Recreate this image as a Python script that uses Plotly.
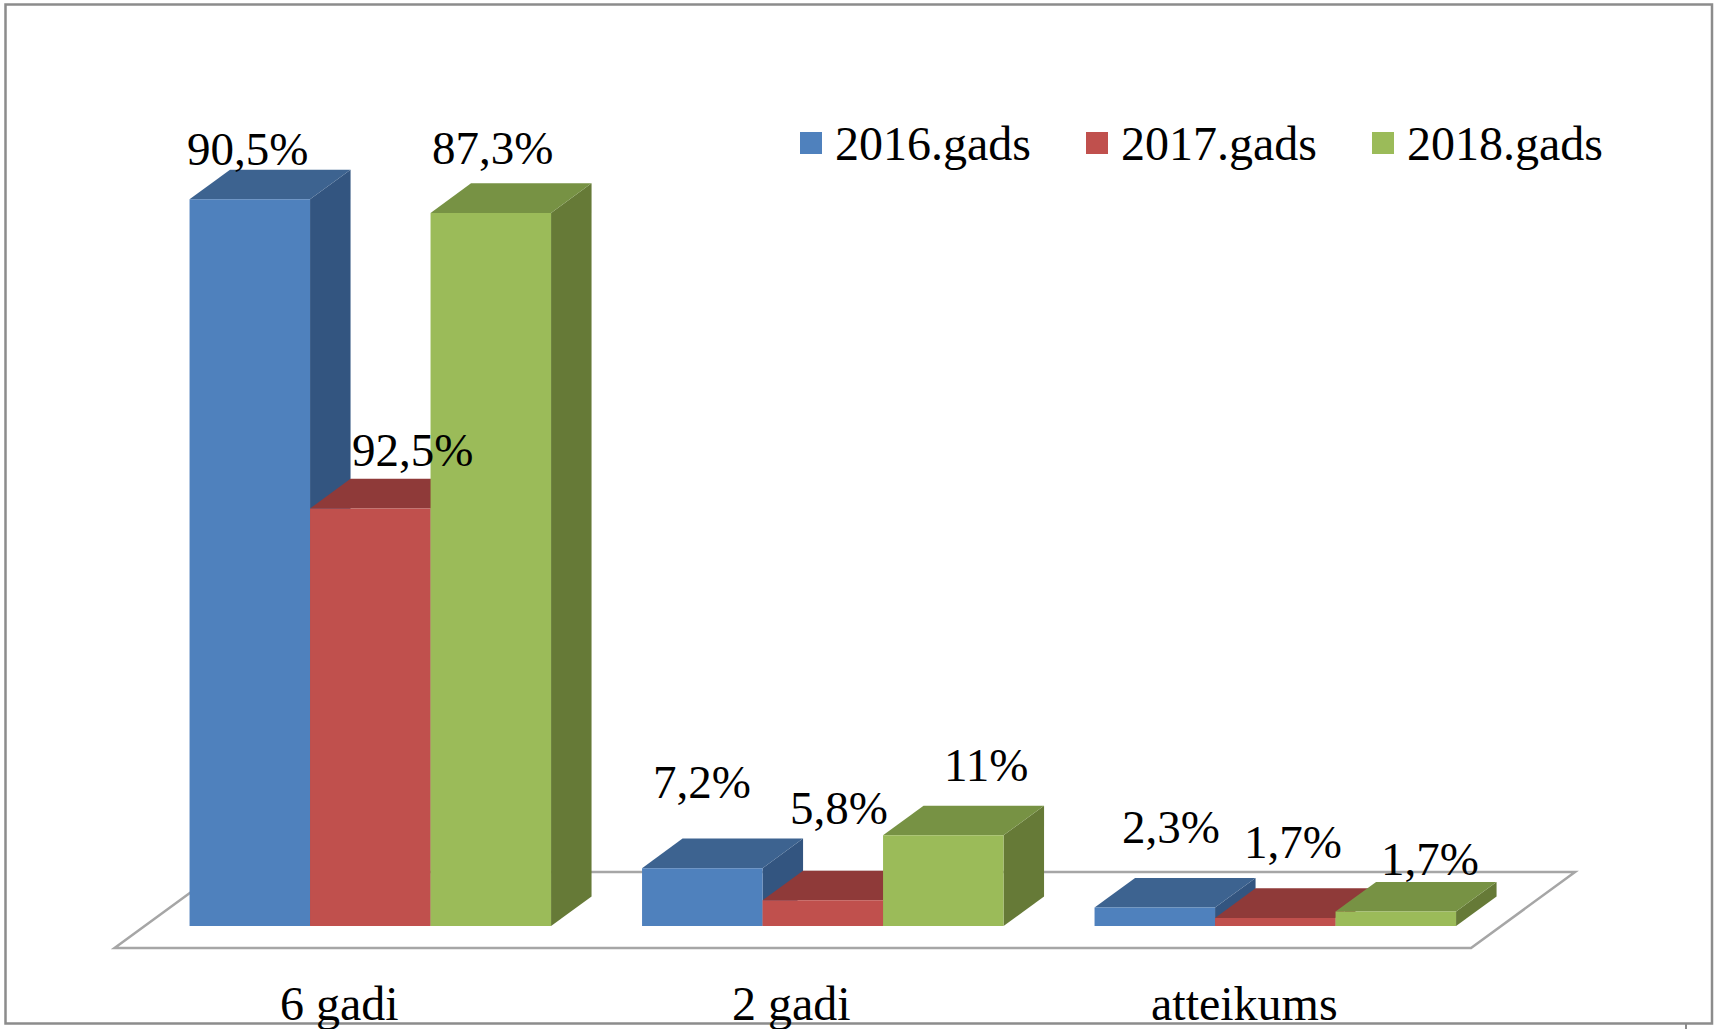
import plotly.graph_objects as go

# ---------------- data ----------------
categories = ["6 gadi", "2 gadi", "atteikums"]
series_names = ["2016.gads", "2017.gads", "2018.gads"]
# bar heights as drawn in the picture (percent)
heights_2016 = [90.5, 7.2, 2.3]
heights_2017 = [52.0, 3.2, 1.0]
heights_2018 = [88.8, 11.3, 1.8]
# data-label texts as printed on the chart
labels_2016 = ["90,5%", "7,2%", "2,3%"]
labels_2017 = ["92,5%", "5,8%", "1,7%"]
labels_2018 = ["87,3%", "11%", "1,7%"]

heights = [heights_2016, heights_2017, heights_2018]
labels = [labels_2016, labels_2017, labels_2018]

front_colors = ["#4F81BD", "#C0504D", "#9BBB59"]
top_colors = ["#3D6390", "#8F3A39", "#779244"]
side_colors = ["#335580", "#7A302E", "#667A37"]

FONT = "Liberation Serif, Times New Roman, serif"
FS_LABEL = 47
FS_TEXT = 48

# label placement nudges (pixels) relative to the bar's front-face centre/top
LABEL_XSHIFT = [[-2, 0, 16], [42, 16, 18], [2, 43, 34]]
LABEL_YSHIFT = [[50, 86, 81], [58, 92, 76], [65, 70, 53]]

# ---------------- geometry (pixels -> axis units) ----------------
W, H = 1718, 1029
CAT_PX = 452.5        # pixels per category step
Y_PX = 8.03           # pixels per percent
CAT0_PX = 370.3       # pixel x of first category centre
BASE_PX = 926.0       # pixel y of the bars' base
BAR_W = 120.5 / CAT_PX
DX = 40.5 / CAT_PX    # depth offset (x)
DY = 29.6 / Y_PX      # depth offset (y)

x_range = [-CAT0_PX / CAT_PX, (W - CAT0_PX) / CAT_PX]
y_range = [-(H - BASE_PX) / Y_PX, BASE_PX / Y_PX]

n_ser = len(heights)
shapes = []

# floor
half_group = n_ser * BAR_W / 2
pad = 45 / CAT_PX
fl_front_dx, fl_front_dy = -30 / CAT_PX, -22 / Y_PX
fl_back_dx, fl_back_dy = 74 / CAT_PX, 54 / Y_PX
xl = 0 - half_group - pad
xr = (len(categories) - 1) + half_group + pad
floor_path = (
    f"M{xl + fl_front_dx},{fl_front_dy} L{xr + fl_front_dx},{fl_front_dy} "
    f"L{xr + fl_back_dx},{fl_back_dy} L{xl + fl_back_dx},{fl_back_dy} Z"
)
shapes.append(dict(type="path", path=floor_path, xref="x", yref="y",
                   fillcolor="white", line=dict(color="#A6A6A6", width=2.5),
                   layer="below"))

fig = go.Figure()
annotations = []

for ci in range(len(categories)):
    for si in range(n_ser):
        xc = ci + (si - (n_ser - 1) / 2) * BAR_W
        x0, x1 = xc - BAR_W / 2, xc + BAR_W / 2
        h = heights[si][ci]
        top = (f"M{x0},{h} L{x1},{h} L{x1 + DX},{h + DY} L{x0 + DX},{h + DY} Z")
        side = (f"M{x1},0 L{x1 + DX},{DY} L{x1 + DX},{h + DY} L{x1},{h} Z")
        shapes.append(dict(type="path", path=side, xref="x", yref="y",
                           fillcolor=side_colors[si], line=dict(width=0), layer="below"))
        shapes.append(dict(type="path", path=top, xref="x", yref="y",
                           fillcolor=top_colors[si], line=dict(width=0), layer="below"))
        annotations.append(dict(x=xc, y=h, xref="x", yref="y",
                                text=labels[si][ci], showarrow=False,
                                xanchor="center", yanchor="middle",
                                xshift=LABEL_XSHIFT[si][ci], yshift=LABEL_YSHIFT[si][ci],
                                font=dict(family=FONT, size=FS_LABEL, color="black")))

for si in range(n_ser):
    xs = [ci + (si - (n_ser - 1) / 2) * BAR_W for ci in range(len(categories))]
    fig.add_trace(go.Bar(x=xs, y=heights[si], width=BAR_W, name=series_names[si],
                         marker=dict(color=front_colors[si], line=dict(width=0)),
                         hoverinfo="skip"))

# category labels (centred on the floor's front edge)
for ci, cat in enumerate(categories):
    annotations.append(dict(x=ci, y=-(1003 - BASE_PX) / Y_PX, xref="x", yref="y",
                            text=cat, showarrow=False, yanchor="middle", xshift=-31,
                            font=dict(family=FONT, size=FS_TEXT, color="black")))

# manual legend
LEG_X0, LEG_STEP, LEG_Y = 800, 286, 143
SQ = 22
for si, name in enumerate(series_names):
    lx = LEG_X0 + si * LEG_STEP
    shapes.append(dict(type="rect", xref="paper", yref="paper",
                       x0=lx / W, x1=(lx + SQ) / W,
                       y0=1 - (LEG_Y - SQ / 2) / H, y1=1 - (LEG_Y + SQ / 2) / H,
                       fillcolor=front_colors[si], line=dict(width=0)))
    annotations.append(dict(x=(lx + 33) / W, y=1 - LEG_Y / H, xref="paper", yref="paper",
                            text=name, showarrow=False, xanchor="left", yanchor="middle",
                            font=dict(family=FONT, size=FS_TEXT, color="black")))

# outer border
shapes.append(dict(type="rect", xref="paper", yref="paper",
                   x0=5.5 / W, x1=1712 / W, y0=1 - 1023.5 / H, y1=1 - 4.5 / H,
                   line=dict(color="#8C8C8C", width=2.5), fillcolor="rgba(0,0,0,0)"))
shapes.append(dict(type="line", xref="paper", yref="paper",
                   x0=1686 / W, x1=1686 / W, y0=1 - 1023.5 / H, y1=0,
                   line=dict(color="#8C8C8C", width=2)))

fig.update_layout(
    width=W, height=H,
    margin=dict(l=0, r=0, t=0, b=0, pad=0),
    paper_bgcolor="white", plot_bgcolor="rgba(0,0,0,0)",
    barmode="overlay", showlegend=False,
    xaxis=dict(range=x_range, visible=False, fixedrange=True),
    yaxis=dict(range=y_range, visible=False, fixedrange=True),
    shapes=shapes, annotations=annotations,
)

fig.write_html(
    "out.html",
    config={"displayModeBar": False},
    post_script="document.body.style.margin='0px';document.body.style.overflow='hidden';",
)
